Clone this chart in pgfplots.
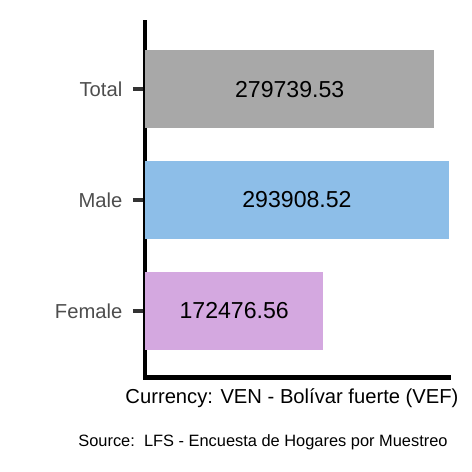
\documentclass[border=0pt]{standalone}
\usepackage{pgfplots}
\pgfplotsset{compat=1.18}
\usepackage{fontspec}
\setmainfont{Liberation Sans}
\definecolor{barTotal}{HTML}{A8A8A8}
\definecolor{barMale}{HTML}{8DBEE8}
\definecolor{barFemale}{HTML}{D4A8E0}
\definecolor{tickgray}{HTML}{4D4D4D}
\definecolor{tickline}{HTML}{333333}
\begin{document}
\begin{tikzpicture}
\path[use as bounding box] (-145bp,-94.5bp) rectangle (327bp,377.5bp);
\begin{axis}[
  scale only axis,
  width=304bp, height=355bp,
  xmin=0, xmax=293908.52,
  ymin=0.4, ymax=3.6,
  axis x line=bottom, axis y line=left,
  axis line style={-, line width=4bp, black, line cap=rect},
  xtick=\empty,
  ytick={1,2,3},
  yticklabels={Female,Male,Total},
  ytick align=outside,
  major tick length=12bp,
  ytick style={line width=4bp, tickline},
  yticklabel style={font=\fontsize{20.2bp}{24bp}\selectfont, text=tickgray, inner sep=0pt, xshift=-10.5bp},
  xbar, bar width=0.7, bar shift=0pt,
  clip=false,
]
% one bar per category
\addplot[draw=none, fill=barFemale] coordinates {(172476.56,1)};
\addplot[draw=none, fill=barMale] coordinates {(293908.52,2)};
\addplot[draw=none, fill=barTotal] coordinates {(279739.53,3)};

\begin{scope}[font=\fontsize{23.1bp}{27bp}\selectfont]
\node at (axis cs:86238.28,1) {172476.56};
\node at (axis cs:146954.26,2) {293908.52};
\node at (axis cs:139869.77,3) {279739.53};
\end{scope}
\end{axis}
\node[anchor=base, inner sep=0pt, font=\fontsize{20.2bp}{24bp}\selectfont] at (147bp,-26bp) {Currency: VEN - Bolívar fuerte (VEF)};
\node[anchor=base, inner sep=0pt, font=\fontsize{16.4bp}{20bp}\selectfont] at (118bp,-69.2bp) {Source:\ \ LFS - Encuesta de Hogares por Muestreo};
\end{tikzpicture}
\end{document}
